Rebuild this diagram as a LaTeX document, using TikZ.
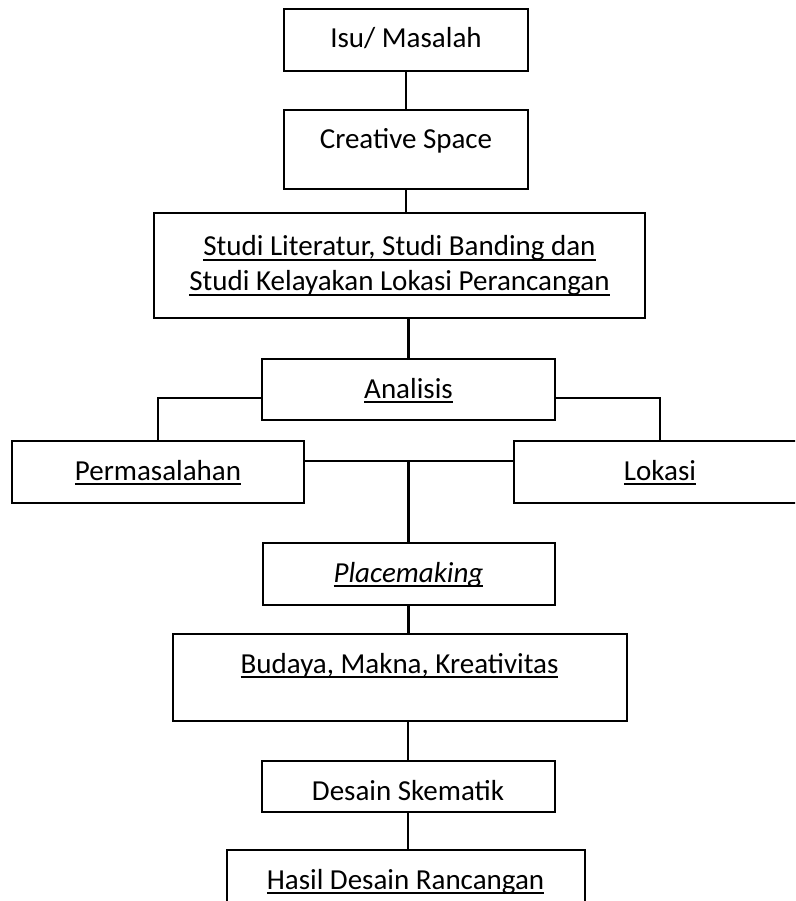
\documentclass[tikz,border=0pt]{standalone}
\usepackage{fontspec}
\setmainfont{Carlito}
\usetikzlibrary{positioning}
\newcommand{\ulx}[1]{\setbox0\hbox{#1}\rlap{\rule[-5pt]{\wd0}{2pt}}\box0}
\begin{document}
\begin{tikzpicture}[
  x=1pt,y=1pt,
  box/.style={draw=black,line width=2pt,inner sep=0pt,outer sep=0pt,text height=39pt,font=\fontsize{29}{35}\selectfont},
  wide/.style={draw=black,line width=2pt,inner sep=0pt,outer sep=0pt,align=center,font=\fontsize{29}{35}\selectfont},
  link/.style={line width=2.7pt,draw=black}
]
\useasboundingbox (0,0) rectangle (795,-901);
\clip (0,0) rectangle (795,-901);
\node[box,anchor=north,minimum width=244pt,text depth=23pt] (isu) at (406,-9) {Isu/ Masalah};
\node[box,below=39pt of isu,minimum width=244pt,text depth=40pt] (cre) {Creative Space};
\node[wide,below=24pt of cre,xshift=-6.5pt,minimum width=491pt,minimum height=105pt] (stu) {\ulx{Studi Literatur, Studi Banding dan}\\\ulx{Studi Kelayakan Lokasi Perancangan}};
\node[box,below=41pt of stu,xshift=9pt,minimum width=293pt,text depth=22pt] (ana) {\ulx{Analisis}};
\node[box,below left=21pt and -42pt of ana,minimum width=292pt,text depth=23pt] (perm) {\ulx{Permasalahan}};
\node[box,below right=21pt and -41pt of ana,minimum width=292pt,text depth=23pt] (lok) {\ulx{Lokasi}};
\node[box,below=123pt of ana,minimum width=292pt,text depth=23pt] (pm) {\ulx{\itshape Placemaking}};
\node[box,below=29pt of pm,xshift=-9pt,minimum width=454pt,text depth=48pt] (bud) {\ulx{Budaya, Makna, Kreativitas}};
\node[box,below=40pt of bud,xshift=8.5pt,minimum width=293pt,text depth=12pt] (des) {Desain Skematik};
\node[box,below=38pt of des,xshift=-2.5pt,minimum width=358pt,text depth=40pt] (has) {\ulx{Hasil Desain Rancangan}};
\coordinate (pj) at ([yshift=11pt]perm.east);
\coordinate (lj) at ([yshift=11pt]lok.west);
\draw[link] (isu) -- (cre);
\draw[link] (cre.south) -- (cre.south |- stu.north);
\draw[link] (ana.north) -- (ana.north |- stu.south);
\draw[link] (ana.base west) -| (perm.north);
\draw[link] (ana.base east) -| (lok.north);
\draw[link] (pj) -- (lj);
\draw[link] (pj -| pm.north) -- (pm.north);
\draw[link] (pm.south) -- (pm.south |- bud.north);
\draw[link] (des.north) -- (des.north |- bud.south);
\draw[link] (des.south) -- (des.south |- has.north);
\end{tikzpicture}
\end{document}
